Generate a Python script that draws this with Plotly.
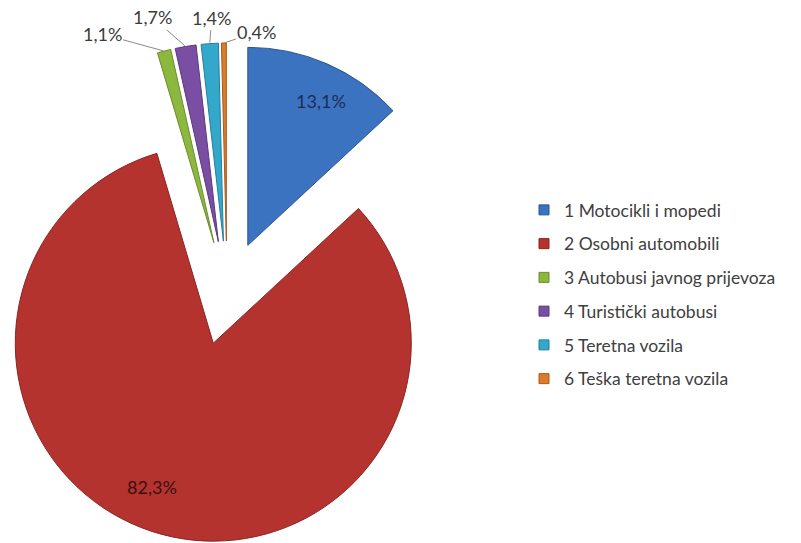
import math
import plotly.graph_objects as go

# Vehicle categories and their share of the total (%)
categories = [
    "1 Motocikli i mopedi",
    "2 Osobni automobili",
    "3 Autobusi javnog prijevoza",
    "4 Turistički autobusi",
    "5 Teretna vozila",
    "6 Teška teretna vozila",
]
shares = [13.1, 82.3, 1.1, 1.7, 1.4, 0.4]

slice_colors = ["#3b73c1", "#b4332f", "#8db83f", "#7a4fa3", "#34a8cb", "#dd7b2c"]
edge_colors = ["#2a5590", "#8a2422", "#6a8c2c", "#5a3a7c", "#23809c", "#a85a1c"]

W, H = 801, 543
CX, CY = 227.0, 293.0      # centre of the (unexploded) pie, px
R = 198.0                  # slice radius, px
EXPLODE = 52.0             # distance each slice is pulled out, px

# Label placement: inside labels as (radius fraction, angle shift in degrees),
# outside labels as a pixel offset from the slice's outer edge (leader line).
inside_place = {0: (0.82, 3.4), 1: (0.79, 7.7)}
outside_offset = {2: (-62, -17), 3: (-33, -29), 4: (2, -26), 5: (33, -11)}
inside_font_color = {0: "#1b2d55", 1: "#3a1010"}

total = sum(shares)
fig = go.Figure()


def pct_text(v):
    return f"{100 * v / total:.1f}".replace(".", ",") + "%"


start = 0.0
annotations = []
for i, v in enumerate(shares):
    span = 360.0 * v / total
    mid_deg = start + span / 2
    mid = math.radians(mid_deg)
    dx, dy = math.sin(mid), -math.cos(mid)
    ax_x, ax_y = CX + EXPLODE * dx, CY + EXPLODE * dy   # apex of the exploded slice

    # each slice is drawn by its own full pie, with the other slices left transparent
    colors = ["rgba(0,0,0,0)"] * len(shares)
    colors[i] = slice_colors[i]
    widths = [0] * len(shares)
    widths[i] = 1

    fig.add_trace(go.Pie(
        labels=categories,
        values=shares,
        sort=False,
        direction="clockwise",
        rotation=0,
        marker=dict(colors=colors, line=dict(color=edge_colors, width=widths)),
        textinfo="none",
        hoverinfo="skip",
        showlegend=False,
        domain=dict(
            x=[(ax_x - R) / W, (ax_x + R) / W],
            y=[1 - (ax_y + R) / H, 1 - (ax_y - R) / H],
        ),
    ))

    if i in inside_place:
        frac, shift = inside_place[i]
        a = math.radians(mid_deg + shift)
        tx, ty = ax_x + frac * R * math.sin(a), ax_y - frac * R * math.cos(a)
        annotations.append(dict(
            x=tx / W, y=1 - ty / H, xref="paper", yref="paper",
            xanchor="center", yanchor="middle",
            text=pct_text(v), showarrow=False,
            font=dict(family="Lato", size=18, color=inside_font_color[i]),
        ))
    else:
        tip_x, tip_y = ax_x + R * dx, ax_y + R * dy
        ox, oy = outside_offset[i]
        annotations.append(dict(
            x=tip_x / W, y=1 - tip_y / H, xref="paper", yref="paper",
            ax=ox, ay=oy, axref="pixel", ayref="pixel",
            xanchor="center", yanchor="middle",
            text=pct_text(v),
            showarrow=True, arrowhead=0, arrowwidth=1, arrowcolor="#8a8a8a",
            standoff=1, font=dict(family="Lato", size=18, color="#3c3c3c"),
        ))
    start += span

# Legend entries
for name, c, e in zip(categories, slice_colors, edge_colors):
    fig.add_trace(go.Scatter(
        x=[None], y=[None], mode="markers", name=name, legendgroup=name,
        marker=dict(symbol="square", size=10, color=c, line=dict(color=e, width=1)),
    ))

fig.update_layout(
    width=W, height=H,
    margin=dict(l=0, r=0, t=0, b=0),
    paper_bgcolor="white", plot_bgcolor="white",
    xaxis=dict(visible=False), yaxis=dict(visible=False),
    annotations=annotations,
    legend=dict(
        x=524 / W, y=1 - 192 / H, xanchor="left", yanchor="top",
        font=dict(family="Lato", size=17.5, color="#404040"),
        tracegroupgap=8, itemwidth=30,
    ),
)

fig.write_html("out.html")
